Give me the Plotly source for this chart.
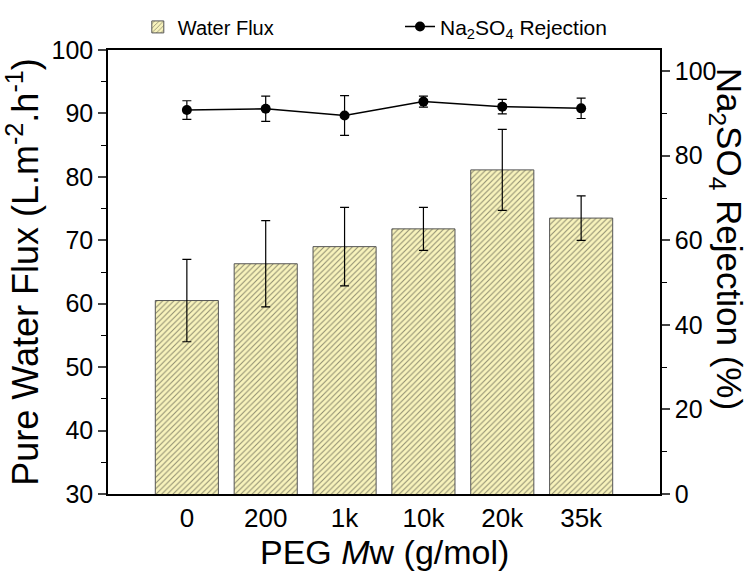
import plotly.graph_objects as go

categories = ["0", "200", "1k", "10k", "20k", "35k"]
flux = [60.5, 66.3, 69.0, 71.8, 81.1, 73.5]
flux_err = [6.5, 6.8, 6.2, 3.4, 6.4, 3.5]
rejection = [90.8, 91.1, 89.5, 92.8, 91.6, 91.2]
rejection_err = [2.2, 3.0, 4.7, 1.3, 1.7, 2.4]

FONT = "Liberation Sans, Arial, sans-serif"

fig = go.Figure()
fig.add_trace(go.Bar(
    x=categories, y=flux, name="Water Flux",
    marker=dict(color="#F8F3BC", line=dict(color="#555555", width=1),
                pattern=dict(shape="/", size=4, solidity=0.25, fgcolor="#222222", bgcolor="#F8F3BC")),
    error_y=dict(type="data", array=flux_err, color="black", thickness=1.2, width=4.5),
    legend="legend",
))
fig.add_trace(go.Scatter(
    x=categories, y=rejection, name="Na<sub>2</sub>SO<sub>4</sub> Rejection",
    mode="lines+markers", yaxis="y2",
    line=dict(color="black", width=1.5),
    marker=dict(color="black", size=10, symbol="circle"),
    error_y=dict(type="data", array=rejection_err, color="black", thickness=1.2, width=4.5),
    legend="legend2",
))

fig.update_layout(
    width=748, height=573,
    margin=dict(l=108, r=88, t=50, b=79, autoexpand=False),
    paper_bgcolor="white", plot_bgcolor="white",
    font=dict(family=FONT, color="black"),
    bargap=0.2,
    showlegend=True,
    legend=dict(x=0.054, y=1.052, xanchor="left", yanchor="middle", orientation="h",
                font=dict(size=20), bgcolor="rgba(0,0,0,0)"),
    legend2=dict(x=0.529, y=1.052, xanchor="left", yanchor="middle", orientation="h",
                 font=dict(size=21), bgcolor="rgba(0,0,0,0)"),
    xaxis=dict(
        range=[-1, 6], showline=True, linecolor="black", linewidth=1.5, mirror=True,
        ticks="", tickfont=dict(size=26), showgrid=False, automargin=False,
    ),
    yaxis=dict(
        range=[30, 100], dtick=10, tick0=30, showline=True, linecolor="black", linewidth=1.5,
        ticks="outside", ticklen=8, tickwidth=1.5, tickfont=dict(size=25), showgrid=False,
        minor=dict(dtick=5, ticks="outside", ticklen=5, tickwidth=1.2, tickcolor="black"),
        title=dict(text="Pure Water Flux (L.m<sup>-2</sup>.h<sup>-1</sup>)", font=dict(size=36), standoff=2),
        zeroline=False, automargin=False,
    ),
    yaxis2=dict(
        range=[0, 105], dtick=20, tick0=0, overlaying="y", side="right",
        showline=True, linecolor="black", linewidth=1.5,
        ticks="outside", ticklen=8, tickwidth=1.5, tickfont=dict(size=25), showgrid=False,
        minor=dict(dtick=10, ticks="outside", ticklen=5, tickwidth=1.2, tickcolor="black"),
        zeroline=False, automargin=False,
    ),
    annotations=[
        dict(
            text="Na<sub>2</sub>SO<sub>4</sub> Rejection (%)", textangle=90,
            xref="paper", yref="paper", x=1.0, xanchor="center", xshift=67, y=0.575, yanchor="middle",
            showarrow=False, font=dict(size=35),
        ),
        dict(
            text="PEG <i>M</i>w (g/mol)",
            xref="paper", yref="paper", x=0.5, xanchor="center", y=-0.131, yanchor="middle",
            showarrow=False, font=dict(size=34),
        ),
    ],
)

fig.write_html("out.html")
